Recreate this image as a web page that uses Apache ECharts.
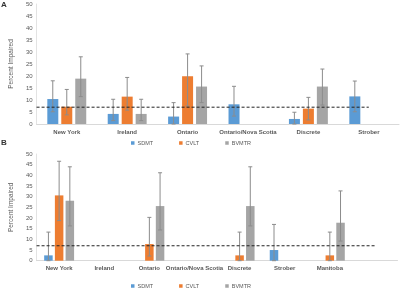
<!DOCTYPE html>
<html><head><meta charset="utf-8">
<script src="https://cdn.jsdelivr.net/npm/echarts@6/dist/echarts.min.js"></script>
<style>html,body{margin:0;padding:0;background:#fff}#c{width:400px;height:289px}</style>
</head><body><div id="c"></div>
<script>
// ---------- DATA ----------
const seriesNames = ['SDMT', 'CVLT', 'BVMTR'];
const threshold = 7;
const yTicks = [0, 50, 5]; // min, max, interval

// Panel A
const catsA = ['New York', 'Ireland', 'Ontario', 'Ontario/Nova Scotia', 'Discrete', 'Strober'];
const sdmtA = [10.4, 4.2, 3.1, 8.2, 2.1, 11.5];
const cvltA = [7.2, 11.4, 19.9, null, 6.4, null];
const bvmtrA = [18.9, 4.2, 15.6, null, 15.6, null];
const sdmtALow = [5.1, 1.4, 0, 3.3, 0, 5.1];
const sdmtAHigh = [18.0, 10.3, 8.9, 15.7, 4.9, 17.9];
const cvltALow = [3.8, 5.8, 7.5, null, 1.7, null];
const cvltAHigh = [14.4, 19.4, 29.2, null, 11.1, null];
const bvmtrALow = [11.4, 1.4, 8.9, null, 7.9, null];
const bvmtrAHigh = [28.0, 10.3, 24.2, null, 22.9, null];

// Panel B
const catsB = ['New York', 'Ireland', 'Ontario', 'Ontario/Nova Scotia', 'Discrete', 'Strober', 'Manitoba', ''];
const sdmtB = [2.5, null, null, null, null, 5.0, null, null];
const cvltB = [30.6, null, 7.8, null, 2.5, null, 2.5, null];
const bvmtrB = [28.1, null, 25.6, null, 25.6, null, 17.8, null];
const sdmtBLow = [0, null, null, null, null, 0, null, null];
const sdmtBHigh = [13.4, null, null, null, null, 17.0, null, null];
const cvltBLow = [18.8, null, 2.2, null, 0, null, 0, null];
const cvltBHigh = [46.6, null, 20.3, null, 13.4, null, 13.4, null];
const bvmtrBLow = [16.3, null, 14.4, null, 16.3, null, 9.2, null];
const bvmtrBHigh = [44.0, null, 41.2, null, 44.0, null, 32.7, null];

// ---------- STYLE ----------
const colors = ['#5b9bd5', '#ed7d31', '#a5a5a5'];
const txt = '#595959';
const font = 'Liberation Sans, Arial, sans-serif';

function errData(lows, highs) {
  const out = [];
  lows.forEach((arr, s) => arr.forEach((lo, i) => {
    if (lo !== null && highs[s][i] !== null) out.push([i, s, lo, highs[s][i]]);
  }));
  return out;
}

function errRender(pitch) {
  return function (params, api) {
    const cat = api.value(0), s = api.value(1);
    const pLo = api.coord([cat, api.value(2)]);
    const pHi = api.coord([cat, api.value(3)]);
    const x = pLo[0] + (s - 1) * pitch;
    const st = { stroke: '#8c8c8c', lineWidth: 1 };
    return { type: 'group', children: [
      { type: 'line', shape: { x1: x, y1: pLo[1], x2: x, y2: pHi[1] }, style: st },
      { type: 'line', shape: { x1: x - 2, y1: pHi[1], x2: x + 2, y2: pHi[1] }, style: st },
      { type: 'line', shape: { x1: x - 2, y1: pLo[1], x2: x + 2, y2: pLo[1] }, style: st }
    ]};
  };
}

function catAxis(gi, cats) {
  return {
    type: 'category', gridIndex: gi, data: cats,
    axisLine: { onZero: false, lineStyle: { color: '#d9d9d9' } }, axisTick: { show: false },
    axisLabel: { interval: 0, fontSize: 6, fontWeight: 'bold', color: txt, fontFamily: font, margin: 5 }
  };
}
function valAxis(gi, gap) {
  return {
    type: 'value', gridIndex: gi, min: yTicks[0], max: yTicks[1], interval: yTicks[2],
    name: 'Percent Impaired', nameLocation: 'middle', nameGap: gap,
    nameTextStyle: { fontSize: 6.5, color: txt, fontFamily: font },
    splitLine: { show: false }, axisTick: { show: false },
    axisLine: { show: true, onZero: false, lineStyle: { color: '#e3e3e3' } },
    axisLabel: { fontSize: 6, color: txt, fontFamily: font, margin: 4 }
  };
}
function hiddenX(gi, n) {
  return { type: 'value', gridIndex: gi, min: -0.5, max: n - 0.5, show: false,
    axisLine: { onZero: false } };
}

const barsA = [sdmtA, cvltA, bvmtrA];
const barsB = [sdmtB, cvltB, bvmtrB];
const series = [];
barsA.forEach((d, s) => series.push({
  name: seriesNames[s], type: 'bar', xAxisIndex: 0, yAxisIndex: 0, data: d,
  barWidth: 11, barGap: '27%', itemStyle: { color: colors[s] }
}));
barsB.forEach((d, s) => series.push({
  name: seriesNames[s], type: 'bar', xAxisIndex: 1, yAxisIndex: 1, data: d,
  barWidth: 8.5, barGap: '26%', itemStyle: { color: colors[s] }
}));
series.push({
  type: 'custom', xAxisIndex: 0, yAxisIndex: 0, z: 5,
  renderItem: errRender(14),
  data: errData([sdmtALow, cvltALow, bvmtrALow], [sdmtAHigh, cvltAHigh, bvmtrAHigh])
});
series.push({
  type: 'custom', xAxisIndex: 1, yAxisIndex: 1, z: 5,
  renderItem: errRender(10.7),
  data: errData([sdmtBLow, cvltBLow, bvmtrBLow], [sdmtBHigh, cvltBHigh, bvmtrBHigh])
});
series.push({
  type: 'line', xAxisIndex: 2, yAxisIndex: 0, z: 6, symbol: 'none', silent: true,
  lineStyle: { color: '#222', width: 1, type: [3, 2] },
  data: [[-0.5, threshold], [catsA.length - 1, threshold]]
});
series.push({
  type: 'line', xAxisIndex: 3, yAxisIndex: 1, z: 6, symbol: 'none', silent: true,
  lineStyle: { color: '#222', width: 1, type: [3, 2] },
  data: [[-0.5, threshold], [catsB.length - 1, threshold]]
});

const legendBase = {
  data: seriesNames, icon: 'rect', itemWidth: 3.5, itemHeight: 3.5, itemGap: 26,
  textStyle: { fontSize: 5.5, color: txt, fontFamily: font, padding: [0, 0, 0, -2] },
  selectedMode: false
};

const chart = echarts.init(document.getElementById('c'), null, { renderer: 'canvas' });
chart.setOption({
  animation: false,
  color: colors,
  title: [
    { text: 'A', left: 1, top: 1, padding: 0, textStyle: { fontSize: 8, fontWeight: 'bold', color: '#333', fontFamily: font } },
    { text: 'B', left: 1, top: 139, padding: 0, textStyle: { fontSize: 8, fontWeight: 'bold', color: '#333', fontFamily: font } }
  ],
  legend: [
    Object.assign({}, legendBase, { left: 131, top: 140, padding: 0 }),
    Object.assign({}, legendBase, { left: 131, top: 283, padding: 0 })
  ],
  grid: [
    { left: 23, right: 1, top: 4, height: 120 },
    { left: 24.7, right: 2.5, top: 154, height: 106.7 }
  ],
  xAxis: [catAxis(0, catsA), catAxis(1, catsB), hiddenX(0, catsA.length), hiddenX(1, catsB.length)],
  yAxis: [valAxis(0, 18), valAxis(1, 18)],
  series: series
});
</script></body></html>
